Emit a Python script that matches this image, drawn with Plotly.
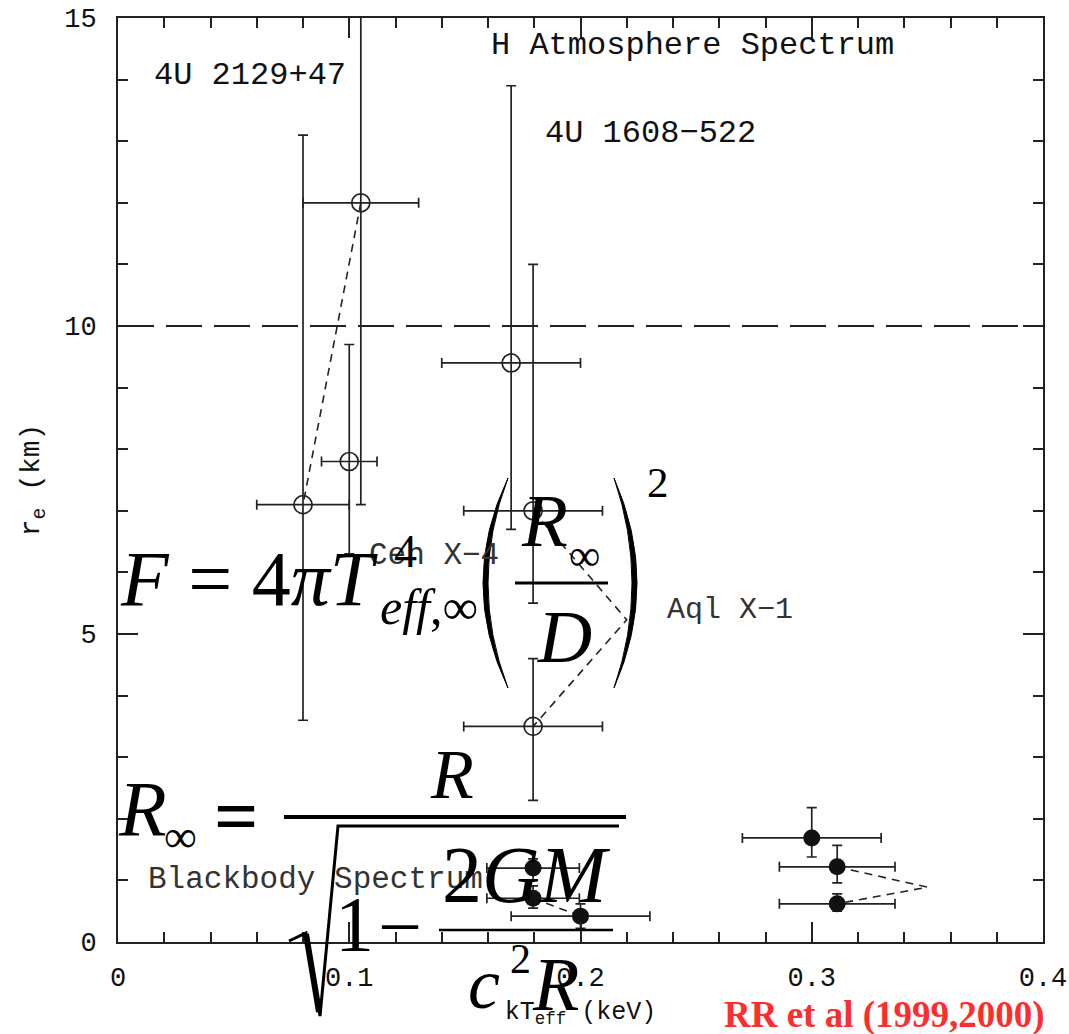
import plotly.graph_objects as go

# H atmosphere spectrum fits (open circles)
h_kt = [0.105, 0.080, 0.100, 0.170, 0.1795, 0.1795]
h_re = [12.0, 7.1, 7.8, 9.4, 7.0, 3.5]
h_kt_lo = [0.025, 0.020, 0.012, 0.030, 0.030, 0.030]
h_kt_hi = [0.025, 0.020, 0.012, 0.030, 0.030, 0.030]
h_re_lo = [4.9, 3.5, 1.5, 2.7, 1.5, 1.2]
h_re_hi = [4.0, 6.0, 1.9, 4.5, 4.0, 1.1]

# blackbody spectrum fits (filled circles)
bb_kt = [0.1795, 0.1795, 0.200, 0.300, 0.311, 0.311]
bb_re = [1.2, 0.71, 0.42, 1.69, 1.22, 0.62]
bb_kt_lo = [0.020, 0.020, 0.030, 0.030, 0.025, 0.025]
bb_kt_hi = [0.020, 0.020, 0.030, 0.030, 0.025, 0.025]
bb_re_lo = [0.20, 0.16, 0.20, 0.31, 0.26, 0.12]
bb_re_hi = [0.15, 0.20, 0.20, 0.49, 0.35, 0.16]

# dashed links between fits of the same source
link_2129_kt = [0.105, 0.080]
link_2129_re = [12.0, 7.1]
link_cen_kt = [0.1795, 0.220, 0.1795]
link_cen_re = [7.0, 5.23, 3.5]
link_bb_kt = [0.1795, 0.200]
link_bb_re = [0.71, 0.42]
link_aql_kt = [0.311, 0.350, 0.311]
link_aql_re = [1.22, 0.89, 0.62]

r_ns = 10  # canonical 10 km line

labels = ["H Atmosphere Spectrum", "4U 2129+47", "4U 1608\u2212522", "Cen X\u22124", "Aql X\u22121", "Blackbody Spectrum"]
label_kt = [0.1604, 0.0147, 0.1838, 0.1077, 0.2365, 0.0121]
label_re = [14.55, 14.07, 13.13, 6.27, 5.39, 1.02]

W, H = 1069, 1034
L, R, T, B = 118, 26, 18, 92
pw, ph = W - L - R, H - T - B
ink = "#222222"
mono = "Liberation Mono"
times = "Liberation Serif"


def px(x):
    return (x - L) / pw


def py(y):
    return (H - B - y) / ph


def path(pts, close=False):
    s = "M " + " L ".join("%.5f,%.5f" % (px(a), py(b)) for a, b in pts)
    return s + (" Z" if close else "")


fig = go.Figure()

err = dict(type="data", symmetric=False, color=ink, thickness=1.7, width=5)

# dashed links
for lx, ly in [(link_2129_kt, link_2129_re), (link_cen_kt, link_cen_re),
               (link_bb_kt, link_bb_re), (link_aql_kt, link_aql_re)]:
    fig.add_trace(go.Scatter(x=lx, y=ly, mode="lines", showlegend=False,
                             line=dict(color=ink, width=1.6, dash="8px,6px")))

fig.add_trace(go.Scatter(
    x=h_kt, y=h_re, mode="markers", showlegend=False,
    marker=dict(symbol="circle-open", size=18, color=ink, line=dict(width=1.7, color=ink)),
    error_x=dict(err, array=h_kt_hi, arrayminus=h_kt_lo),
    error_y=dict(err, array=h_re_hi, arrayminus=h_re_lo),
))

fig.add_trace(go.Scatter(
    x=bb_kt, y=bb_re, mode="markers", showlegend=False,
    marker=dict(symbol="circle", size=17, color="#111111"),
    error_x=dict(err, array=bb_kt_hi, arrayminus=bb_kt_lo),
    error_y=dict(err, array=bb_re_hi, arrayminus=bb_re_lo),
))

# 10 km line
fig.add_shape(type="line", xref="paper", x0=0, x1=1, yref="y", y0=r_ns, y1=r_ns,
              line=dict(color=ink, width=1.9, dash="36px,12px"), layer="below")

# in-plot labels
sizes = [32, 32, 32, 31, 30, 31]
cols = ["#111111", "#111111", "#111111", "#333333", "#333333", "#333333"]
for t, xk, yr, s, c in zip(labels, label_kt, label_re, sizes, cols):
    fig.add_annotation(text=t, x=xk, y=yr, xref="x", yref="y", xanchor="left", yanchor="middle",
                       showarrow=False, font=dict(family=mono, size=s, color=c))


# formula overlay
def eq(text, x, base, size, anchor="left", color="black"):
    fig.add_annotation(text=text, x=px(x), y=py(base - 0.34 * size), xref="paper", yref="paper",
                       xanchor=anchor, yanchor="middle", showarrow=False,
                       font=dict(family=times, size=size, color=color))


# F = 4 pi T^4_eff,inf (R_inf / D)^2
eq("<i>F</i> = 4<i>\u03c0T</i>", 118, 605, 78)
eq("4", 392, 567, 46)
eq("<i>eff</i>,\u221e", 378, 624, 50)
eq("<i>R</i>", 519, 546, 75)
eq("\u221e", 567, 570, 44)
eq("<i>D</i>", 535, 662, 75)
eq("2", 645, 497, 43)
fig.add_shape(type="path", xref="paper", yref="paper", layer="above",
              path="M %.5f,%.5f Q %.5f,%.5f %.5f,%.5f Q %.5f,%.5f %.5f,%.5f Z" % (
                  px(508), py(478), px(458), py(583), px(508), py(688), px(468), py(583), px(508), py(478)),
              fillcolor="black", line=dict(color="black", width=1))
fig.add_shape(type="path", xref="paper", yref="paper", layer="above",
              path="M %.5f,%.5f Q %.5f,%.5f %.5f,%.5f Q %.5f,%.5f %.5f,%.5f Z" % (
                  px(614), py(478), px(660), py(583), px(614), py(688), px(650), py(583), px(614), py(478)),
              fillcolor="black", line=dict(color="black", width=1))
fig.add_shape(type="line", xref="paper", yref="paper", layer="above",
              x0=px(515), x1=px(608), y0=py(583), y1=py(583), line=dict(color="black", width=3))

# R_inf = R / sqrt(1 - 2GM / c^2 R)
eq("<i>R</i>", 116, 835, 78)
eq("\u221e", 162, 852, 46)
eq("<b>=</b>", 236, 842, 78, anchor="center")
eq("<i>R</i>", 428, 798, 70)
eq("1", 354, 950, 78, anchor="center")
eq("\u2212", 400, 953, 78, anchor="center")
eq("2<i>GM</i>", 440, 902, 80)
eq("<i>c</i>", 466, 1008, 72)
eq("2", 508, 973, 42)
eq("<i>R</i>", 530, 1010, 76)
fig.add_shape(type="line", xref="paper", yref="paper", layer="above",
              x0=px(284), x1=px(626), y0=py(817), y1=py(817), line=dict(color="black", width=4))
fig.add_shape(type="line", xref="paper", yref="paper", layer="above",
              x0=px(439), x1=px(613), y0=py(930), y1=py(930), line=dict(color="black", width=2.5))
fig.add_shape(type="path", xref="paper", yref="paper", layer="above",
              path=path([(289, 941), (306, 933), (320, 1016), (338, 826), (619, 826)]),
              line=dict(color="black", width=3))
fig.add_shape(type="line", xref="paper", yref="paper", layer="above",
              x0=px(306), x1=px(319), y0=py(934), y1=py(1012), line=dict(color="black", width=6))

# citation
eq("<b>RR et al (1999,2000)</b>", 884, 1028, 37, anchor="center", color="#ff2d2d")

axis = dict(showline=True, linecolor=ink, linewidth=2, mirror="ticks", ticks="inside",
            tickwidth=1.7, tickcolor=ink, ticklen=20, showgrid=False, zeroline=False,
            automargin=False,
            tickfont=dict(family=mono, size=27, color="#111111"))

fig.update_xaxes(axis, range=[0, 0.4], dtick=0.1, tick0=0,
                 minor=dict(dtick=0.02, ticks="inside", ticklen=10, tickwidth=1.5, tickcolor=ink),
                 ticklabelstandoff=10,
                 title=dict(text="kT<sub>eff</sub> (keV)", standoff=8,
                            font=dict(family=mono, size=25, color="#111111")))
fig.update_yaxes(axis, range=[0, 15], dtick=5, tick0=0,
                 minor=dict(dtick=1, ticks="inside", ticklen=10, tickwidth=1.5, tickcolor=ink),
                 ticklabelstandoff=14,
                 title=dict(text="r<sub>e</sub> (km)", standoff=16,
                            font=dict(family=mono, size=28, color="#111111")))

fig.update_layout(width=W, height=H, margin=dict(l=L, r=R, t=T, b=B),
                  plot_bgcolor="white", paper_bgcolor="white", showlegend=False)

fig.write_html("out.html", config={"displayModeBar": False},
               post_script="document.body.style.margin='0px';")
